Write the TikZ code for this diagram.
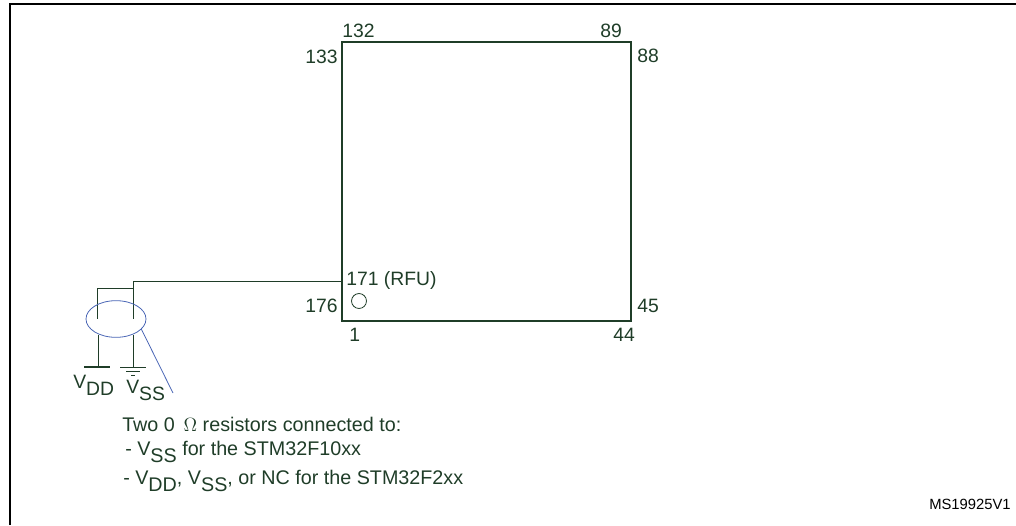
\documentclass[tikz,border=0pt]{standalone}
\usepackage{fontspec}
\setmainfont{Liberation Sans}
\usetikzlibrary{shapes.geometric}
\definecolor{wiregreen}{HTML}{1F3D28}
\definecolor{wireblue}{HTML}{4A66B5}
\newcommand{\railname}[2]{#1\raisebox{-0.38em}{#2}}
\tikzset{
  lbl/.style={anchor=base west, inner sep=0pt, text=wiregreen, font=\fontsize{14.5}{16}\selectfont},
  note/.style={anchor=base west, inner sep=0pt, text=wiregreen, font=\fontsize{14.8}{16}\selectfont},
  wire/.style={draw=wiregreen, line width=0.7pt},
}
\begin{document}
\begin{tikzpicture}[x=0.75pt, y=-0.75pt]
    \useasboundingbox (0,0) rectangle (1016,525);
    % frame
    \coordinate (framebl) at (10,525);
    \coordinate (frametl) at (10,4);
    \coordinate (frametr) at (1016,4);
    \draw[line width=1.5pt, miter limit=10] (framebl) -- (frametl) -- (frametr);

    % package
    \node[draw=wiregreen, line width=1.5pt, minimum width=216.75pt, minimum height=209.25pt, inner sep=0pt] (chip) at (486,181.5) {};
    \node[lbl] (p132) at (342,37) {132};
    \node[lbl, anchor=base east] (p133) at (338,63) {133};
    \node[lbl] (p89) at (600,37) {89};
    \node[lbl] (p88) at (637,62) {88};
    \node[lbl] (p171) at (346,285) {171 (RFU)};
    \node[lbl, anchor=base east] (p176) at (338,312) {176};
    \node[lbl] (p1) at (349,341) {1};
    \node[lbl] (p45) at (637,312) {45};
    \node[lbl] (p44) at (613,341) {44};
    \node[draw=wiregreen, circle, line width=0.6pt, minimum size=11.2pt, inner sep=0pt] (dot) at (359,301) {};

    % wires
    \coordinate (pin) at (342,281);
    \coordinate (corner) at (133,281);
    \coordinate (tee) at (133,288);
    \coordinate (bend) at (97,288);
    \coordinate (ddup) at (97,319);
    \coordinate (ssup) at (133,319);
    \coordinate (ddlow) at (98,335);
    \coordinate (sslow) at (133,335);
    \draw[wire] (pin) -- (corner) -- (ssup);
    \draw[wire] (tee) -- (bend) -- (ddup);

    % rails
    \node[fill=wiregreen, minimum width=20pt, minimum height=2pt, inner sep=0pt] (ddbar) at (97,367) {};
    \coordinate (gnda) at (120,367);
    \coordinate (gndb) at (146,367);
    \coordinate (gndc) at (126,371);
    \coordinate (gndd) at (140,371);
    \coordinate (gnde) at (131,375);
    \coordinate (gndf) at (135,375);
    \coordinate (gndtop) at (133,367);
    \draw[wire] (ddlow) -- (ddlow |- ddbar);
    \draw[wire] (sslow) -- (gndtop);
    \draw[draw=wiregreen, line width=0.6pt] (gnda) -- (gndb);
    \draw[draw=wiregreen, line width=0.6pt] (gndc) -- (gndd);
    \draw[draw=wiregreen, line width=0.6pt] (gnde) -- (gndf);
    \node[lbl] (vdd) at (73,388) {\railname{V}{DD}};
    \node[lbl] (vss) at (126,393) {\railname{V}{SS}};

    % resistors
    \node[draw=wireblue, ellipse, line width=0.6pt, minimum width=45pt, minimum height=27.5pt, inner sep=0pt] (resistors) at (116,319) {};
    \coordinate (leader) at (173,393);
    \draw[draw=wireblue, line width=0.6pt] (resistors.-22) -- (leader);

    % note
    \node[note] (line1) at (122,431) {Two 0 \,$\Omega$ resistors connected to:};
    \node[note] (line2) at (125,455) {- \railname{V}{SS} for the STM32F10xx};
    \node[note] (line3) at (123,484) {- \railname{V}{DD}, \railname{V}{SS}, or NC for the STM32F2xx};
    \node[anchor=base west, inner sep=0pt, font=\fontsize{11.1}{13}\selectfont] (code) at (929,509) {MS19925V1};
\end{tikzpicture}
\end{document}
